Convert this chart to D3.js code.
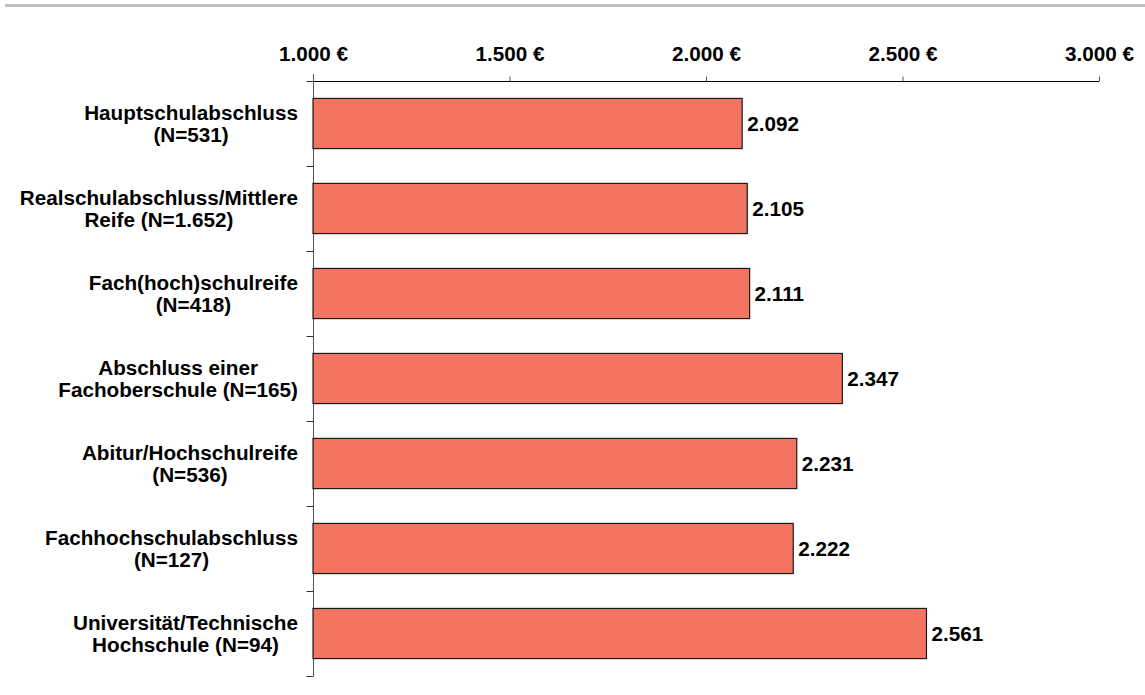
<!DOCTYPE html>
<html>
<head>
<meta charset="utf-8">
<script src="https://cdn.jsdelivr.net/npm/d3@7"></script>
<style>
  html, body { margin: 0; padding: 0; background: #fff; }
  svg { display: block; font-family: "Liberation Sans", Arial, sans-serif; }
</style>
</head>
<body>
<svg id="chart" width="1145" height="695"></svg>
<script>
const categories = [
  ["Hauptschulabschluss", "(N=531)"],
  ["Realschulabschluss/Mittlere", "Reife (N=1.652)"],
  ["Fach(hoch)schulreife", "(N=418)"],
  ["Abschluss einer", "Fachoberschule (N=165)"],
  ["Abitur/Hochschulreife", "(N=536)"],
  ["Fachhochschulabschluss", "(N=127)"],
  ["Universität/Technische", "Hochschule (N=94)"]
];
const values = [2092, 2105, 2111, 2347, 2231, 2222, 2561];
const tickValues = [1000, 1500, 2000, 2500, 3000];

const de = d3.formatLocale({decimal: ",", thousands: ".", grouping: [3], currency: ["", " €"]});
const fmtVal = de.format(",d");
const fmtTick = d => de.format(",d")(d) + " €";
const FS = 20.7;

const svg = d3.select("#chart");

// top gray rule
svg.append("rect").attr("x", 5).attr("y", 4).attr("width", 1140).attr("height", 3).attr("fill", "#c0c0c0");

const x = d3.scaleLinear().domain([1000, 3000]).range([313, 1099]);
const y = d3.scaleBand().domain(d3.range(categories.length)).range([81, 676]).paddingInner(0.41).paddingOuter(0.205);
const yb = d3.scaleLinear().domain([0, categories.length]).range([81, 676]);

// x axis (top)
const xAxis = svg.append("g").attr("transform", "translate(0,81.5)")
  .call(d3.axisTop(x).tickValues(tickValues).tickFormat(fmtTick).tickSize(5).tickSizeOuter(0));
xAxis.select(".domain").attr("stroke", "#000").attr("d", "M307,0H" + x(3000));
xAxis.selectAll(".tick line").attr("stroke", "#555");
xAxis.selectAll("text").attr("font-size", FS).attr("font-weight", "bold").attr("fill", "#000")
  .attr("y", -21).attr("dy", "0");

// y axis line and boundary ticks
const yAxis = svg.append("g").attr("transform", "translate(313.5,0)")
  .call(d3.axisLeft(yb).tickValues(d3.range(categories.length + 1)).tickFormat("").tickSize(7).tickSizeOuter(0));
yAxis.select(".domain").attr("stroke", "#555").attr("d", "M0,74V" + yb(categories.length));
yAxis.selectAll(".tick line").attr("stroke", "#333");

// bars
svg.append("g").selectAll("rect").data(values).join("rect")
  .attr("x", x(1000))
  .attr("y", (d, i) => y(i))
  .attr("width", d => x(d) - x(1000))
  .attr("height", y.bandwidth())
  .attr("fill", "#f47462")
  .attr("stroke", "#1a1a1a")
  .attr("stroke-width", 1.2);

// value labels
svg.append("g").selectAll("text").data(values).join("text")
  .attr("x", d => x(d) + 5)
  .attr("y", (d, i) => y(i) + y.bandwidth() / 2)
  .attr("dy", "0.36em")
  .attr("font-size", FS).attr("font-weight", "bold").attr("fill", "#000")
  .text(d => fmtVal(d));

// category labels (centered lines, block right-aligned)
const labG = svg.append("g");
categories.forEach((lines, i) => {
  const g = labG.append("g");
  const texts = lines.map((ln, j) => g.append("text")
    .attr("font-size", FS).attr("font-weight", "bold").attr("fill", "#000")
    .attr("text-anchor", "middle")
    .attr("y", y(i) + y.bandwidth() / 2 + (j - (lines.length - 1) / 2) * 22.5)
    .attr("dy", "0.36em")
    .text(ln));
  const w = d3.max(texts, t => t.node().getComputedTextLength());
  texts.forEach(t => t.attr("x", 298 - w / 2));
});
</script>
</body>
</html>
